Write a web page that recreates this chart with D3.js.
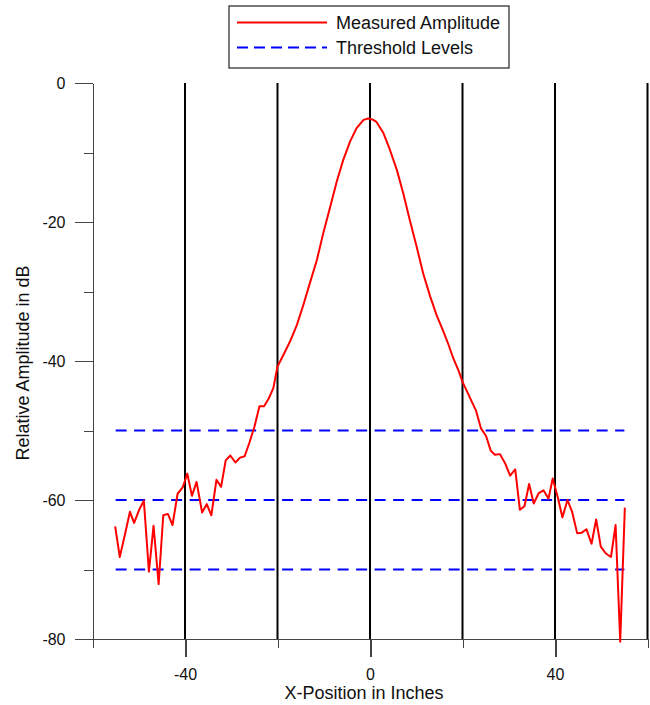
<!DOCTYPE html>
<html lang="en">
<head>
	<meta charset="utf-8">
	<title>Relative Amplitude</title>
	<script type="text/javascript" src="https://cdnjs.cloudflare.com/ajax/libs/d3/7.8.5/d3.min.js" charset="utf-8"></script>
	<style type="text/css">
		body { margin: 0; background: #fff; }
		text { font-family: "Liberation Sans", Arial, sans-serif; fill: #111; }
		.axis path,
		.axis line {
			fill: none;
			stroke: #444;
			shape-rendering: crispEdges;
		}
		.axis text {
			font-size: 16px;
		}
	</style>
</head>
<body>
<script type="text/javascript">

// x positions of the measured samples, in inches
var xInches = [-55.1,-54.1,-53.0,-51.9,-51.0,-49.9,-48.9,-47.8,-46.8,-45.7,-44.7,-43.7,-42.7,-41.6,-40.5,-39.5,-38.5,-37.5,-36.3,-35.3,-34.3,-33.2,-32.2,-31.2,-30.2,-29.1,-28.1,-27.1,-26.1,-25.0,-23.9,-22.9,-21.9,-20.9,
	-20.0,-18.7,-17.3,-15.8,-14.4,-13.0,-11.5,-10.1,-8.6,-7.2,-5.8,-4.3,-2.9,-1.4,-0.4,0.0,0.7,1.4,2.9,4.3,5.8,7.2,8.6,10.1,11.5,13.0,14.4,15.9,17.0,18.0,19.1,
	20.0,21.0,21.9,22.9,24.0,25.1,26.1,27.0,28.1,29.2,30.3,31.4,32.4,33.4,34.4,35.4,36.5,37.5,38.6,39.5,40.6,41.6,42.7,43.7,44.8,45.8,46.8,47.9,48.9,49.9,51.0,52.1,53.1,54.1,55.1];

// measured amplitude in dB
var amplitudeDb = [-63.8,-68.2,-65.0,-61.7,-63.3,-61.4,-60.1,-70.3,-63.7,-72.1,-62.2,-62.0,-63.6,-59.1,-58.2,-56.2,-59.4,-57.4,-61.8,-60.6,-62.2,-57.1,-58.1,-54.3,-53.6,-54.6,-53.9,-53.7,-51.8,-49.5,-46.5,-46.5,-45.4,-43.9,
	-40.8,-39.1,-37.2,-34.8,-31.9,-28.8,-25.5,-21.6,-17.8,-14.2,-11.1,-8.4,-6.5,-5.3,-5.1,-5.15,-5.3,-5.6,-7.2,-9.6,-12.5,-15.9,-19.7,-23.6,-27.4,-30.7,-33.4,-35.8,-37.7,-39.6,-41.3,
	-43.0,-44.4,-45.7,-47.1,-49.7,-50.8,-52.9,-53.5,-53.4,-54.7,-56.5,-55.6,-61.4,-60.9,-57.7,-60.5,-59.0,-58.6,-59.8,-56.9,-59.6,-62.5,-60.0,-61.7,-64.8,-64.7,-64.2,-66.3,-62.8,-66.7,-67.7,-68.2,-63.6,-80.4,-61.1];

// threshold levels and their extent
var thresholds = [-50, -60, -70];
var thresholdRange = [-55, 55];

// ticks and grid
var xMajorTicks = [-40, 0, 40];
var xMinorTicks = [-60, -20, 20, 60];
var yMajorTicks = [0, -20, -40, -60, -80];
var yMinorTicks = [-10, -30, -50, -70];
var gridLines = [-40, -20, 0, 20, 40, 60];

var legendLabels = ["Measured Amplitude", "Threshold Levels"];

var data = xInches.map(function(x, i) { return {x: x, y: amplitudeDb[i]}; });

var width = 650, height = 705;
var plot = {left: 92.5, right: 647.5, top: 83, bottom: 639};

var xScale = d3.scaleLinear().domain([-60, 60]).range([plot.left, plot.right]);
var yScale = d3.scaleLinear().domain([-80, 0]).range([plot.bottom, plot.top]);

// plain hyphen instead of the unicode minus d3 uses
var plainFormat = function(d) { return String(d); };

var svg = d3.select("body")
	.append("svg")
	.attr("width", width)
	.attr("height", height);

// vertical grid lines
svg.append("g")
	.selectAll("line")
	.data(gridLines)
	.enter().append("line")
	.attr("x1", function(d) { return xScale(d); })
	.attr("x2", function(d) { return xScale(d); })
	.attr("y1", yScale(0))
	.attr("y2", yScale(-80))
	.attr("stroke", "#000")
	.attr("stroke-width", 2);

// y axis: minor then major ticks
svg.append("g")
	.attr("class", "axis")
	.attr("transform", "translate(" + plot.left + ",0)")
	.call(d3.axisLeft(yScale).tickValues(yMinorTicks).tickSize(9).tickSizeOuter(0).tickFormat(""));

svg.append("g")
	.attr("class", "axis")
	.attr("transform", "translate(" + plot.left + ",0)")
	.call(d3.axisLeft(yScale).tickValues(yMajorTicks).tickSize(18).tickSizeOuter(0).tickPadding(9).tickFormat(plainFormat))
	.call(function(g) { g.selectAll("text").attr("fill", "#111"); });

// x axis
svg.append("g")
	.attr("class", "axis")
	.attr("transform", "translate(0," + plot.bottom + ")")
	.call(d3.axisBottom(xScale).tickValues(xMinorTicks).tickSize(9).tickSizeOuter(0).tickFormat(""));

svg.append("g")
	.attr("class", "axis")
	.attr("transform", "translate(0," + plot.bottom + ")")
	.call(d3.axisBottom(xScale).tickValues(xMajorTicks).tickSize(18).tickSizeOuter(0).tickPadding(12).tickFormat(plainFormat))
	.call(function(g) {
		g.select(".domain").remove();
		g.selectAll("line").attr("stroke", "#000").attr("stroke-width", 2);
		g.selectAll("text").attr("fill", "#111");
	});

// threshold levels
svg.append("g")
	.selectAll("line")
	.data(thresholds)
	.enter().append("line")
	.attr("x1", xScale(thresholdRange[0]))
	.attr("x2", xScale(thresholdRange[1]))
	.attr("y1", function(d) { return yScale(d); })
	.attr("y2", function(d) { return yScale(d); })
	.attr("stroke", "#0000ff")
	.attr("stroke-width", 2)
	.attr("stroke-dasharray", "11,7.5");

// measured curve
var line = d3.line()
	.x(function(d) { return xScale(d.x); })
	.y(function(d) { return yScale(d.y); });

svg.append("path")
	.datum(data)
	.attr("d", line)
	.attr("fill", "none")
	.attr("stroke", "#ff0000")
	.attr("stroke-width", 2)
	.attr("stroke-linejoin", "round");

// axis titles
svg.append("text")
	.attr("x", 364)
	.attr("y", 699)
	.attr("text-anchor", "middle")
	.style("font-size", "18px")
	.text("X-Position in Inches");

svg.append("text")
	.attr("transform", "translate(29,363) rotate(-90)")
	.attr("text-anchor", "middle")
	.style("font-size", "18px")
	.text("Relative Amplitude in dB");

// legend
var legend = svg.append("g");
legend.append("rect")
	.attr("x", 229)
	.attr("y", 6)
	.attr("width", 280)
	.attr("height", 62)
	.attr("fill", "#fff")
	.attr("stroke", "#333")
	.attr("stroke-width", 1.3);

legend.append("line")
	.attr("x1", 237).attr("x2", 327)
	.attr("y1", 22.5).attr("y2", 22.5)
	.attr("stroke", "#ff0000")
	.attr("stroke-width", 2);

legend.append("line")
	.attr("x1", 237).attr("x2", 327)
	.attr("y1", 47.5).attr("y2", 47.5)
	.attr("stroke", "#0000ff")
	.attr("stroke-width", 2)
	.attr("stroke-dasharray", "11,6");

legend.selectAll("text.lbl")
	.data(legendLabels)
	.enter().append("text")
	.attr("class", "lbl")
	.attr("x", 336)
	.attr("y", function(d, i) { return 29 + i * 25; })
	.style("font-size", "18px")
	.text(function(d) { return d; });

</script>
</body>
</html>
